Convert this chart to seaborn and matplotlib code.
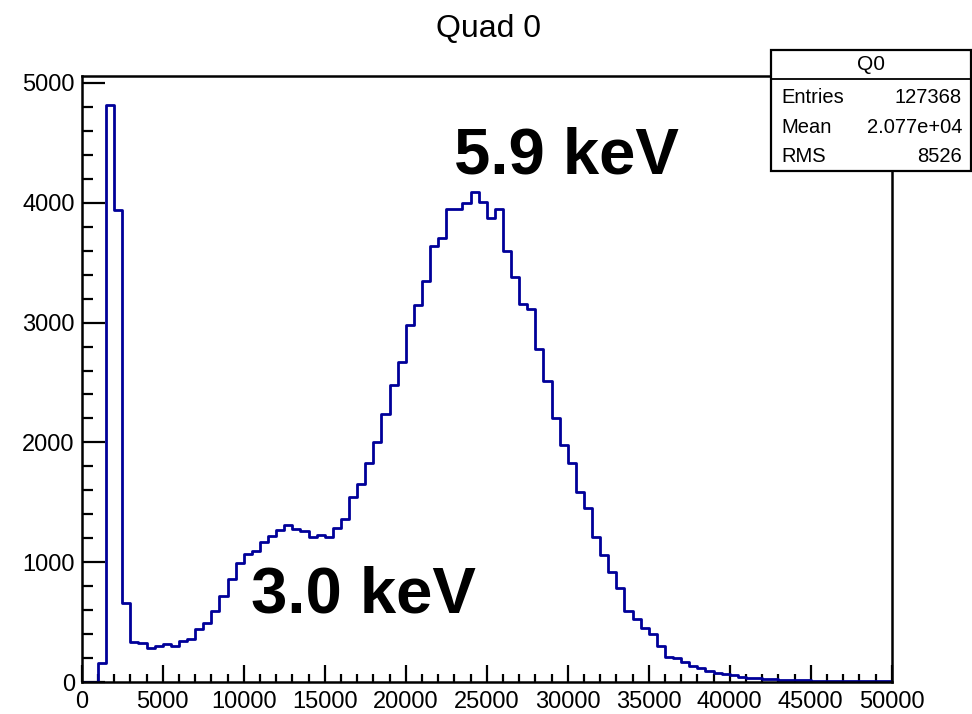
import numpy as np
import pandas as pd
import matplotlib
matplotlib.use("Agg")
import matplotlib.pyplot as plt
from matplotlib.patches import Rectangle
from matplotlib.lines import Line2D
from matplotlib.ticker import MultipleLocator
import seaborn as sns

# ---------------- data (bin width 500, range 0..50000) ----------------
bin_edges = list(range(0, 50001, 500))
counts = [0, 0, 163, 4815, 3939, 659, 339, 330, 283, 305,
          319, 303, 347, 361, 444, 492, 595, 722, 859, 992,
          1067, 1095, 1173, 1220, 1268, 1314, 1281, 1264, 1209, 1226,
          1209, 1289, 1359, 1543, 1650, 1830, 2007, 2237, 2479, 2668,
          2977, 3146, 3346, 3636, 3705, 3944, 3944, 3994, 4086, 4003,
          3869, 3944, 3599, 3382, 3153, 3116, 2777, 2513, 2201, 1983,
          1832, 1589, 1456, 1214, 1062, 922, 789, 594, 528, 456,
          400, 306, 214, 200, 167, 136, 120, 95, 80, 68,
          57, 47, 40, 32, 28, 25, 22, 20, 18, 16,
          14, 13, 12, 11, 10, 9, 8, 8, 7, 7]
title = "Quad 0"
stats_name = "Q0"
stats_labels = ["Entries", "Mean", "RMS"]
stats_values = ["127368", "2.077e+04", "8526"]
annotations = ["5.9 keV", "3.0 keV"]
x_ticks = list(range(0, 50001, 5000))
y_ticks = list(range(0, 5001, 1000))

centers = [(bin_edges[i] + bin_edges[i + 1]) / 2 for i in range(len(counts))]
df = pd.DataFrame({"adc": centers, "n": counts})

sns.set_theme(style="white")
plt.rcParams["font.family"] = ["Liberation Sans", "DejaVu Sans"]
plt.rcParams["text.color"] = "black"
plt.rcParams["xtick.color"] = "black"
plt.rcParams["ytick.color"] = "black"
plt.rcParams["axes.labelcolor"] = "black"

fig = plt.figure(figsize=(9.72, 7.14), dpi=100)
W, H = 972, 714
ax = fig.add_axes([81.7 / W, 1 - 682.3 / H, (891.7 - 81.7) / W, (682.3 - 76) / H])

sns.histplot(data=df, x="adc", weights="n", bins=bin_edges, element="step",
             fill=False, color="#000099", linewidth=2.0, ax=ax)

ax.set_xlim(0, 50000)
ax.set_ylim(0, 5056)
ax.set_xlabel("")
ax.set_ylabel("")

for s in ax.spines.values():
    s.set_visible(True)
    s.set_color("black")
    s.set_linewidth(1.8)

ax.set_xticks(x_ticks)
ax.set_xticklabels([str(v) for v in x_ticks])
ax.set_yticks(y_ticks)
ax.set_yticklabels([str(v) for v in y_ticks])
ax.xaxis.set_minor_locator(MultipleLocator(1000))
ax.yaxis.set_minor_locator(MultipleLocator(200))
ax.tick_params(axis="x", which="major", direction="in", length=12.5, width=1.6,
               labelsize=17, pad=6, colors="black", bottom=True, top=False)
ax.tick_params(axis="x", which="minor", direction="in", length=6, width=1.6,
               bottom=True, top=False, colors="black")
ax.tick_params(axis="y", which="major", direction="in", length=16.5, width=1.6,
               labelsize=17, pad=5, colors="black", left=True, right=False)
ax.tick_params(axis="y", which="minor", direction="in", length=8, width=1.6,
               left=True, right=False, colors="black")
ax.grid(False)

# annotations
ax.text(23000, 4247, annotations[0], fontsize=47, fontweight="bold",
        ha="left", va="baseline", color="black")
ax.text(10450, 578, annotations[1], fontsize=47, fontweight="bold",
        ha="left", va="baseline", color="black")

# title
fig.text(488 / W, 1 - 37.3 / H, title, fontsize=23, ha="center", va="baseline",
         color="black")

# stats box (figure coordinates)
bx0, bx1 = 771 / W, 970.5 / W
by_top, by_bot, by_sep = 1 - 50 / H, 1 - 171 / H, 1 - 79.3 / H
fig.patches.append(Rectangle((bx0, by_bot), bx1 - bx0, by_top - by_bot,
                             transform=fig.transFigure, facecolor="white",
                             edgecolor="black", linewidth=1.6, zorder=10))
fig.lines.append(Line2D([bx0, bx1], [by_sep, by_sep], transform=fig.transFigure,
                        color="black", linewidth=1.3, zorder=11))
fig.text((bx0 + bx1) / 2, 1 - 64.5 / H, stats_name, fontsize=15,
         ha="center", va="center", zorder=12, color="black")
row_y = [97.3, 127.3, 156.7]
for lab, val, yy in zip(stats_labels, stats_values, row_y):
    fig.text(781 / W, 1 - yy / H, lab, fontsize=14.5, ha="left", va="center",
             zorder=12, color="black")
    fig.text(962 / W, 1 - yy / H, val, fontsize=14.5, ha="right", va="center",
             zorder=12, color="black")

fig.savefig("out.png", dpi=100, facecolor="white")
